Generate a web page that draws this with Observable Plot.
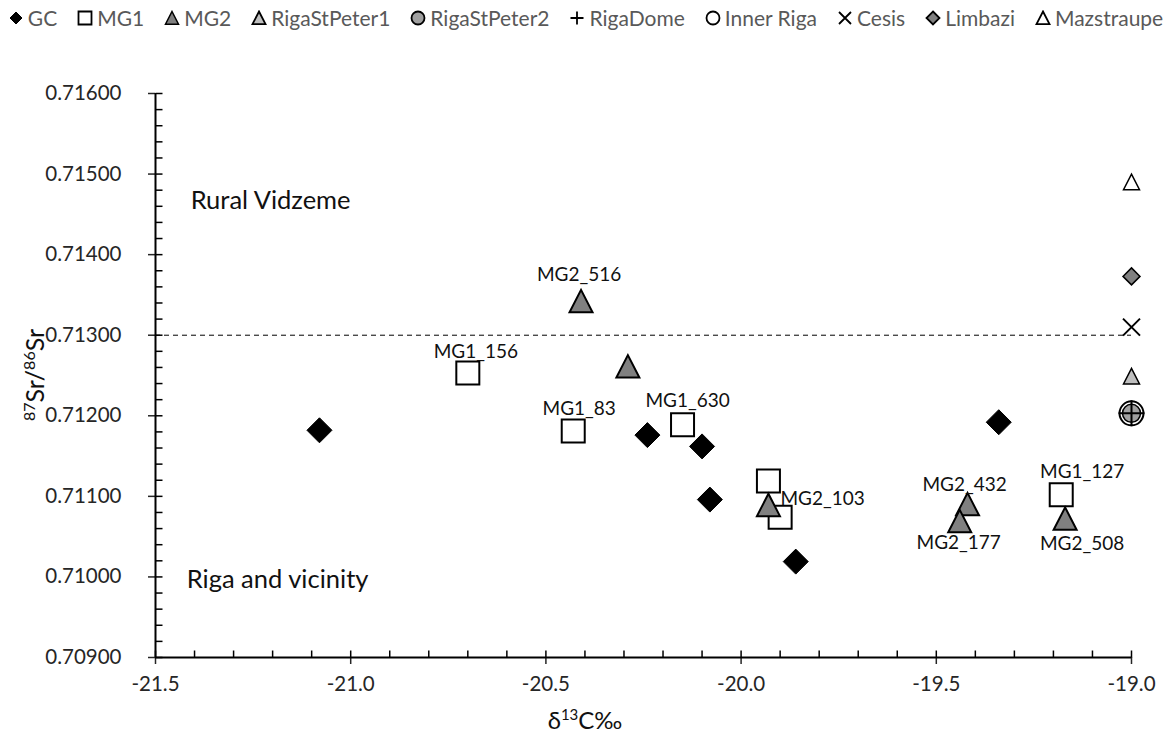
<!DOCTYPE html>
<html><head><meta charset="utf-8">
<script src="https://cdn.jsdelivr.net/npm/d3@7"></script>
<script src="https://cdn.jsdelivr.net/npm/@observablehq/plot@0.6"></script>
<style>
html,body{margin:0;padding:0;background:#fff;}
body{width:1171px;height:740px;overflow:hidden;font-family:Lato,"Open Sans",sans-serif;}
#legend{height:35px;display:flex;align-items:center;justify-content:center;gap:20px;font-size:21px;color:#595959;white-space:nowrap;}
#legend .item{display:flex;align-items:center;gap:4px;}
#legend svg{display:block;}
#chart svg{display:block;}
</style></head><body>
<div id="legend"></div>
<div id="chart"></div>
<script>
// ---- data ----
const gcX = [-21.08, -20.24, -20.10, -20.08, -19.86, -19.34];
const gcY = [0.71182, 0.71176, 0.71162, 0.71096, 0.71019, 0.71192];

const mg1X = [-20.70, -20.43, -20.15, -19.93, -19.90, -19.18];
const mg1Y = [0.71253, 0.71181, 0.71189, 0.71119, 0.71074, 0.71102];
const mg1Labels = ["MG1_156", "MG1_83", "MG1_630", "", "", "MG1_127"];

const mg2X = [-20.41, -20.29, -19.93, -19.42, -19.44, -19.17];
const mg2Y = [0.71342, 0.71261, 0.71089, 0.71090, 0.71069, 0.71072];
const mg2Labels = ["MG2_516", "", "MG2_103", "MG2_432", "MG2_177", "MG2_508"];

const siteNames = ["RigaStPeter1", "RigaStPeter2", "RigaDome", "Inner Riga", "Cesis", "Limbazi", "Mazstraupe"];
const siteX = [-19.0, -19.0, -19.0, -19.0, -19.0, -19.0, -19.0];
const siteY = [0.71249, 0.71203, 0.71203, 0.71203, 0.71310, 0.71373, 0.71490];

const thresholdY = 0.713;
const regionNames = ["Rural Vidzeme", "Riga and vicinity"];
const regionX = [-21.41, -21.42];
const regionY = [0.71467, 0.70996];

const xTicks = [-21.5, -21.0, -20.5, -20.0, -19.5, -19.0];
const xMinor = [-21.4,-21.3,-21.2,-21.1,-20.9,-20.8,-20.7,-20.6,-20.4,-20.3,-20.2,-20.1,-19.9,-19.8,-19.7,-19.6,-19.4,-19.3,-19.2,-19.1];
const yTicks = [0.709, 0.710, 0.711, 0.712, 0.713, 0.714, 0.715, 0.716];
const yMinor = [0.7092,0.7094,0.7096,0.7098,0.7102,0.7104,0.7106,0.7108,0.7112,0.7114,0.7116,0.7118,0.7122,0.7124,0.7126,0.7128,0.7132,0.7134,0.7136,0.7138,0.7142,0.7144,0.7146,0.7148,0.7152,0.7154,0.7156,0.7158];

// ---- symbols (r = half width) ----
const R = s => Math.sqrt(s / Math.PI);
const symSquare = {draw(c, s){const r=R(s); c.moveTo(-r,-r); c.lineTo(r,-r); c.lineTo(r,r); c.lineTo(-r,r); c.closePath();}};
const symDiamond = {draw(c, s){const r=R(s); c.moveTo(0,-r); c.lineTo(r,0); c.lineTo(0,r); c.lineTo(-r,0); c.closePath();}};
const symTriangle = {draw(c, s){const r=R(s); c.moveTo(0,-r); c.lineTo(r,r*0.95); c.lineTo(-r,r*0.95); c.closePath();}};
const symCircle = {draw(c, s){const r=R(s); c.moveTo(r,0); c.arc(0,0,r,0,2*Math.PI);}};
const symPlus = {draw(c, s){const r=R(s); c.moveTo(-r,0); c.lineTo(r,0); c.moveTo(0,-r); c.lineTo(0,r);}};
const symTimes = {draw(c, s){const r=R(s); c.moveTo(-r,-r); c.lineTo(r,r); c.moveTo(r,-r); c.lineTo(-r,r);}};
const symHTick = {draw(c, s){const r=R(s); c.moveTo(0,0); c.lineTo(r,0);}};
const symVTick = {draw(c, s){const r=R(s); c.moveTo(0,0); c.lineTo(0,-r);}};

const siteStyle = {
  "RigaStPeter1": {symbol: symTriangle, r: 8, fill: "#bfbfbf", stroke: "#000", sw: 1.5},
  "RigaStPeter2": {symbol: symCircle, r: 9, fill: "#a0a0a0", stroke: "#000", sw: 1.5},
  "RigaDome": {symbol: symPlus, r: 13, fill: "none", stroke: "#000", sw: 2},
  "Inner Riga": {symbol: symCircle, r: 12, fill: "none", stroke: "#000", sw: 2},
  "Cesis": {symbol: symTimes, r: 8.5, fill: "none", stroke: "#000", sw: 2},
  "Limbazi": {symbol: symDiamond, r: 8.5, fill: "#808080", stroke: "#000", sw: 1.5},
  "Mazstraupe": {symbol: symTriangle, r: 8, fill: "#fff", stroke: "#000", sw: 1.5}
};

const gc = gcX.map((x, i) => ({x, y: gcY[i]}));
const mg1 = mg1X.map((x, i) => ({x, y: mg1Y[i], label: mg1Labels[i]}));
const mg2 = mg2X.map((x, i) => ({x, y: mg2Y[i], label: mg2Labels[i]}));
const sites = siteNames.map((name, i) => ({name, x: siteX[i], y: siteY[i]}));
const regions = regionNames.map((t, i) => ({t, x: regionX[i], y: regionY[i]}));

// label offsets (px, relative to marker centre)
const labelOffsets = {
  "MG2_516": [-2, -26, "middle"], "MG1_156": [8, -21, "middle"], "MG1_83": [6, -22, "middle"],
  "MG1_630": [5, -24, "middle"], "MG2_103": [12, -6, "start"], "MG2_432": [-3, -20, "middle"],
  "MG2_177": [-1, 22, "middle"], "MG1_127": [21, -23, "middle"], "MG2_508": [17, 25, "middle"]
};
const labelMarks = [...mg1, ...mg2].filter(d => d.label).map(d => {
  const [dx, dy, anchor] = labelOffsets[d.label];
  return Plot.text([d], {x: "x", y: "y", text: "label", dx, dy, textAnchor: anchor, fontSize: 19, fill: "#111"});
});

const siteMarks = sites.map(d => {
  const st = siteStyle[d.name];
  return Plot.dot([d], {x: "x", y: "y", symbol: st.symbol, r: st.r, fill: st.fill, stroke: st.stroke, strokeWidth: st.sw});
});

const chart = Plot.plot({
  width: 1171, height: 705,
  marginLeft: 155, marginRight: 40, marginTop: 58, marginBottom: 83,
  x: {domain: [-21.5, -19.0]},
  y: {domain: [0.709, 0.716]},
  style: {fontFamily: "Lato, 'Open Sans', sans-serif", fontSize: "20px", color: "#262626", background: "#fff", overflow: "visible"},
  marks: [
    Plot.ruleY([thresholdY], {x1: -21.5, x2: -19.0, stroke: "#000", strokeWidth: 1, strokeDasharray: "5,4"}),
    Plot.axisY({ticks: yTicks, tickFormat: d => d.toFixed(5), tickSize: 7, tickPadding: 27, label: null, strokeWidth: 1.5, fontSize: 20.5}),
    Plot.axisX({ticks: xTicks, tickFormat: d => d.toFixed(1), tickSize: 7, tickPadding: 12, label: null, strokeWidth: 1.5, fontSize: 20.5}),
    Plot.dot(yTicks, {y: d => d, frameAnchor: "left", symbol: symHTick, r: 7, stroke: "#000", strokeWidth: 1.5}),
    Plot.dot(yMinor, {y: d => d, frameAnchor: "left", symbol: symHTick, r: 7, stroke: "#000", strokeWidth: 1.5}),
    Plot.dot(xTicks, {x: d => d, frameAnchor: "bottom", symbol: symVTick, r: 7, stroke: "#000", strokeWidth: 1.5}),
    Plot.dot(xMinor, {x: d => d, frameAnchor: "bottom", symbol: symVTick, r: 7, stroke: "#000", strokeWidth: 1.5}),
    Plot.ruleX([-21.5], {stroke: "#000", strokeWidth: 2}),
    Plot.ruleY([0.709], {stroke: "#000", strokeWidth: 2}),
    Plot.text(regions, {x: "x", y: "y", text: "t", textAnchor: "start", fontSize: 25.5, fill: "#111"}),
    Plot.dot(gc, {x: "x", y: "y", symbol: symDiamond, r: 12.5, fill: "#000", stroke: "#000", strokeWidth: 1}),
    Plot.dot(mg1, {x: "x", y: "y", symbol: symSquare, r: 11.5, fill: "#fff", stroke: "#000", strokeWidth: 2}),
    Plot.dot(mg2, {x: "x", y: "y", symbol: symTriangle, r: 11.5, fill: "#808080", stroke: "#000", strokeWidth: 2}),
    ...siteMarks,
    ...labelMarks
  ]
});
document.getElementById("chart").appendChild(chart);

// axis titles with superscripts
const svg = d3.select(chart);
const yt = svg.append("text").attr("transform", "translate(44,340) rotate(-90)")
  .attr("text-anchor", "middle").attr("font-size", 25).attr("fill", "#111");
yt.append("tspan").attr("font-size", 16).attr("dy", -9).text("87");
yt.append("tspan").attr("dy", 9).text("Sr/");
yt.append("tspan").attr("font-size", 16).attr("dy", -9).text("86");
yt.append("tspan").attr("dy", 9).text("Sr");
const xt = svg.append("text").attr("x", 585).attr("y", 694)
  .attr("text-anchor", "middle").attr("font-size", 24).attr("fill", "#111");
xt.append("tspan").text("δ");
xt.append("tspan").attr("font-size", 15).attr("dy", -9).text("13");
xt.append("tspan").attr("dy", 9).text("C‰");

// legend
const legendItems = [
  {name: "GC", symbol: symDiamond, r: 6, fill: "#000", stroke: "#000", sw: 1},
  {name: "MG1", symbol: symSquare, r: 6.5, fill: "#fff", stroke: "#000", sw: 1.8},
  {name: "MG2", symbol: symTriangle, r: 6.5, fill: "#808080", stroke: "#000", sw: 1.5},
  ...siteNames.map(n => ({name: n, symbol: siteStyle[n].symbol, r: n === "RigaDome" ? 6.5 : (n === "Cesis" ? 6 : 6.5), fill: siteStyle[n].fill, stroke: "#000", sw: 1.8}))
];
const leg = d3.select("#legend");
legendItems.forEach(it => {
  const item = leg.append("div").attr("class", "item");
  const s = item.append("svg").attr("width", 16).attr("height", 16);
  s.append("path").attr("transform", "translate(8,8)")
    .attr("d", d3.symbol(it.symbol, Math.PI * it.r * it.r)())
    .attr("fill", it.fill).attr("stroke", it.stroke).attr("stroke-width", it.sw);
  item.append("span").text(it.name);
});
</script>
</body></html>
